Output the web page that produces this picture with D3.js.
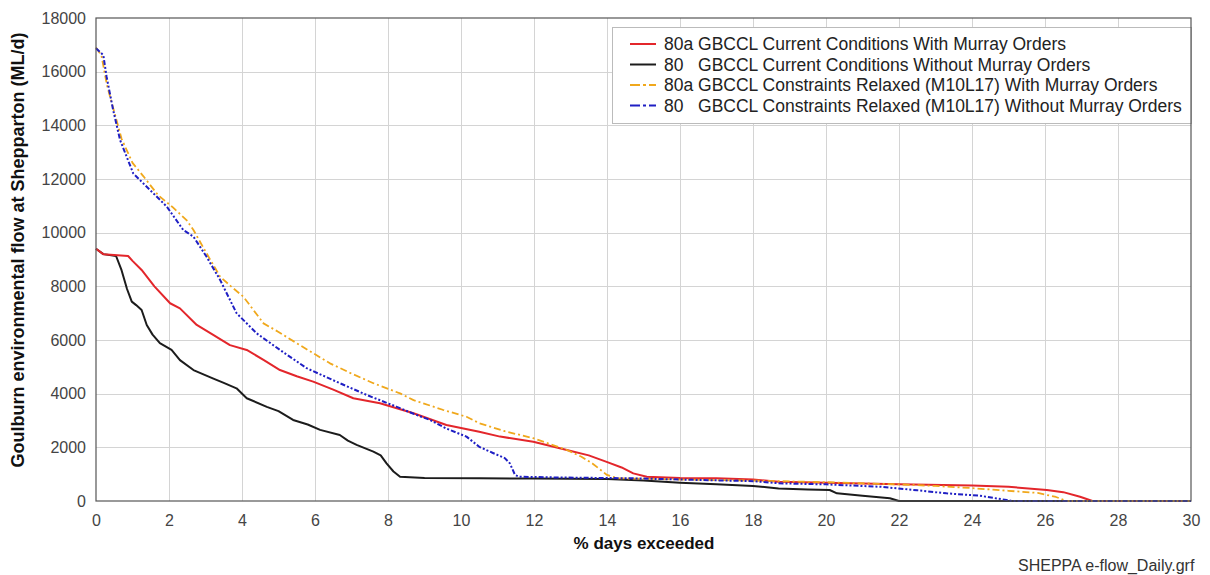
<!DOCTYPE html>
<html>
<head>
<meta charset="utf-8">
<script src="https://cdn.jsdelivr.net/npm/d3@7"></script>
<style>
  html, body { margin: 0; padding: 0; background: #fff; overflow: hidden; }
  svg { display: block; font-family: "Liberation Sans", Arial, sans-serif; }
</style>
</head>
<body>
<svg id="chart" width="1210" height="575"></svg>
<script>
// Flow duration curves: % days exceeded vs environmental flow (ML/d)
const xTicks = [0, 2, 4, 6, 8, 10, 12, 14, 16, 18, 20, 22, 24, 26, 28, 30];
const yTicks = [0, 2000, 4000, 6000, 8000, 10000, 12000, 14000, 16000, 18000];

const seriesNames = [
  "80a GBCCL Current Conditions With Murray Orders",
  "80   GBCCL Current Conditions Without Murray Orders",
  "80a GBCCL Constraints Relaxed (M10L17) With Murray Orders",
  "80   GBCCL Constraints Relaxed (M10L17) Without Murray Orders"
];

const redX = [0, 0.2, 0.88, 1.0, 1.25, 1.6, 2.03, 2.3, 2.76, 3.2, 3.67, 4.13, 4.6, 5.04, 5.5, 5.95, 6.5, 7.05, 7.78, 8.7, 9.6, 10.5, 11.07, 11.98, 12.9, 13.5, 13.99, 14.4, 14.72, 15.09, 16, 17, 18, 18.7, 20, 22, 24, 25, 26.05, 26.5, 26.96, 27.3, 30];
const redY = [9400, 9200, 9130, 8950, 8610, 8000, 7370, 7180, 6560, 6200, 5810, 5630, 5250, 4880, 4650, 4450, 4150, 3830, 3640, 3270, 2830, 2580, 2400, 2210, 1900, 1700, 1460, 1250, 1030, 905, 860, 850, 800, 720, 680, 620, 580, 530, 410, 330, 160, 0, 0];

const blackX = [0, 0.2, 0.55, 0.7, 0.85, 0.98, 1.1, 1.25, 1.39, 1.55, 1.75, 2.07, 2.3, 2.67, 3.2, 3.5, 3.85, 4.13, 4.68, 5.0, 5.4, 5.8, 6.14, 6.68, 6.9, 7.14, 7.6, 7.8, 7.96, 8.15, 8.33, 9, 10.5, 12, 14, 15, 16, 17, 18, 18.7, 19.5, 20.1, 20.3, 21, 21.75, 22.0, 30];
const blackY = [9400, 9200, 9130, 8600, 7900, 7430, 7300, 7120, 6560, 6200, 5880, 5630, 5250, 4880, 4570, 4400, 4200, 3830, 3510, 3350, 3020, 2850, 2650, 2460, 2250, 2090, 1840, 1700, 1400, 1100, 905, 860, 845, 840, 820, 760, 680, 620, 560, 470, 430, 410, 285, 200, 100, 0, 0];

const orangeX = [0, 0.15, 0.3, 0.5, 0.7, 1.0, 1.3, 1.7, 2.1, 2.48, 2.67, 3.0, 3.4, 3.7, 4.04, 4.59, 5.0, 5.5, 6.41, 7.0, 7.6, 8.33, 8.7, 9.5, 10.15, 10.5, 11.2, 11.98, 12.9, 13.3, 13.6, 14.0, 14.3, 15, 16, 18, 20, 22, 23, 24, 25, 25.8, 26.3, 26.6, 30];
const orangeY = [16900, 16600, 15500, 14500, 13500, 12600, 12100, 11400, 10950, 10470, 10100, 9300, 8360, 8000, 7610, 6620, 6300, 5880, 5130, 4750, 4390, 4010, 3760, 3400, 3140, 2900, 2600, 2340, 1900, 1650, 1400, 970, 845, 830, 800, 760, 700, 620, 560, 480, 380, 300, 150, 0, 0];

const blueX = [0, 0.2, 0.29, 0.47, 0.66, 1.02, 1.39, 1.94, 2.39, 2.67, 3.03, 3.4, 3.85, 4.4, 5.04, 5.77, 6.68, 7.42, 8.24, 8.7, 9.15, 9.6, 10.15, 10.5, 10.89, 11.2, 11.34, 11.48, 11.6, 12.5, 14.7, 16, 18, 18.7, 20, 21.5, 22.5, 23.3, 24.2, 24.95, 25.1, 30];
const blueY = [16870, 16620, 15810, 14570, 13450, 12210, 11710, 10970, 10100, 9850, 9100, 8240, 7000, 6250, 5630, 4950, 4390, 3950, 3510, 3250, 3020, 2700, 2400, 2020, 1780, 1600, 1400, 970, 905, 880, 845, 800, 740, 660, 620, 530, 400, 285, 200, 37, 0, 0];

const svg = d3.select("#chart");
const margin = { left: 96, top: 18, right: 19, bottom: 74 };
const W = 1210, H = 575;
const x = d3.scaleLinear().domain([0, 30]).range([margin.left, W - margin.right]);
const y = d3.scaleLinear().domain([0, 18000]).range([H - margin.bottom, margin.top]);

// gridlines
const grid = svg.append("g").attr("stroke", "#d4d4d4").attr("stroke-width", 1);
xTicks.slice(1, -1).forEach(t => grid.append("line")
  .attr("x1", Math.round(x(t)) + 0.5).attr("x2", Math.round(x(t)) + 0.5)
  .attr("y1", y(18000)).attr("y2", y(0)));
yTicks.slice(1, -1).forEach(t => grid.append("line")
  .attr("y1", Math.round(y(t)) + 0.5).attr("y2", Math.round(y(t)) + 0.5)
  .attr("x1", x(0)).attr("x2", x(30)));

// axes (labels only, frame drawn separately)
const xAxis = svg.append("g").attr("transform", `translate(0,${y(0) + 10})`)
  .call(d3.axisBottom(x).tickValues(xTicks).tickSize(0).tickPadding(4).tickFormat(d3.format("d")));
const yAxis = svg.append("g").attr("transform", `translate(${x(0) - 6},0)`)
  .call(d3.axisLeft(y).tickValues(yTicks).tickSize(0).tickPadding(4).tickFormat(d3.format("d")));
[xAxis, yAxis].forEach(a => {
  a.select(".domain").remove();
  a.selectAll("text").attr("font-size", 16).attr("fill", "#444")
    .attr("font-family", "Liberation Sans, Arial, sans-serif");
});

// series lines
const series = [
  { xs: blackX, ys: blackY, color: "#1c1c1c", dash: null, width: 2 },
  { xs: redX, ys: redY, color: "#e3262b", dash: null, width: 2 },
  { xs: orangeX, ys: orangeY, color: "#f0a81c", dash: "7,3,2,3", width: 1.8 },
  { xs: blueX, ys: blueY, color: "#1f1fc4", dash: "5,2,2,2,2,2", width: 2 }
];
const line = d3.line().x(d => x(d[0])).y(d => y(d[1]));
const plot = svg.append("g");
series.forEach(s => {
  plot.append("path")
    .datum(d3.zip(s.xs, s.ys))
    .attr("d", line)
    .attr("fill", "none")
    .attr("stroke", s.color)
    .attr("stroke-width", s.width)
    .attr("stroke-dasharray", s.dash)
    .attr("stroke-linejoin", "round");
});

// legend
const legendOrder = [
  { name: seriesNames[0], s: series[1] },
  { name: seriesNames[1], s: series[0] },
  { name: seriesNames[2], s: series[2] },
  { name: seriesNames[3], s: series[3] }
];
const lg = svg.append("g");
lg.append("rect").attr("x", 612.5).attr("y", 27.5).attr("width", 579).attr("height", 96)
  .attr("fill", "#fff").attr("stroke", "#bbb").attr("stroke-width", 1);
legendOrder.forEach((d, i) => {
  const cy = 44 + i * 20.5;
  lg.append("line").attr("x1", 630).attr("x2", 656).attr("y1", cy).attr("y2", cy)
    .attr("stroke", d.s.color).attr("stroke-width", d.s.width)
    .attr("stroke-dasharray", d.s.dash ? "10,3,3,3" : null);
  lg.append("text").attr("x", 664).attr("y", cy + 6)
    .attr("font-size", 17.5).attr("fill", "#222")
    .attr("xml:space", "preserve").style("white-space", "pre")
    .text(d.name);
});

// plot frame
svg.append("rect")
  .attr("x", x(0)).attr("y", y(18000))
  .attr("width", x(30) - x(0)).attr("height", y(0) - y(18000))
  .attr("fill", "none").attr("stroke", "#555").attr("stroke-width", 1.2);

// axis titles
svg.append("text")
  .attr("x", 644).attr("y", 549)
  .attr("text-anchor", "middle").attr("font-size", 17).attr("font-weight", "bold").attr("fill", "#111")
  .text("% days exceeded");
svg.append("text")
  .attr("transform", `translate(24,${250}) rotate(-90)`)
  .attr("text-anchor", "middle").attr("font-size", 18).attr("font-weight", "bold").attr("fill", "#111")
  .text("Goulburn environmental flow at Shepparton (ML/d)");

// source note
svg.append("text")
  .attr("x", 1018).attr("y", 571)
  .attr("font-size", 16).attr("fill", "#333")
  .text("SHEPPA e-flow_Daily.grf");
</script>
</body>
</html>
